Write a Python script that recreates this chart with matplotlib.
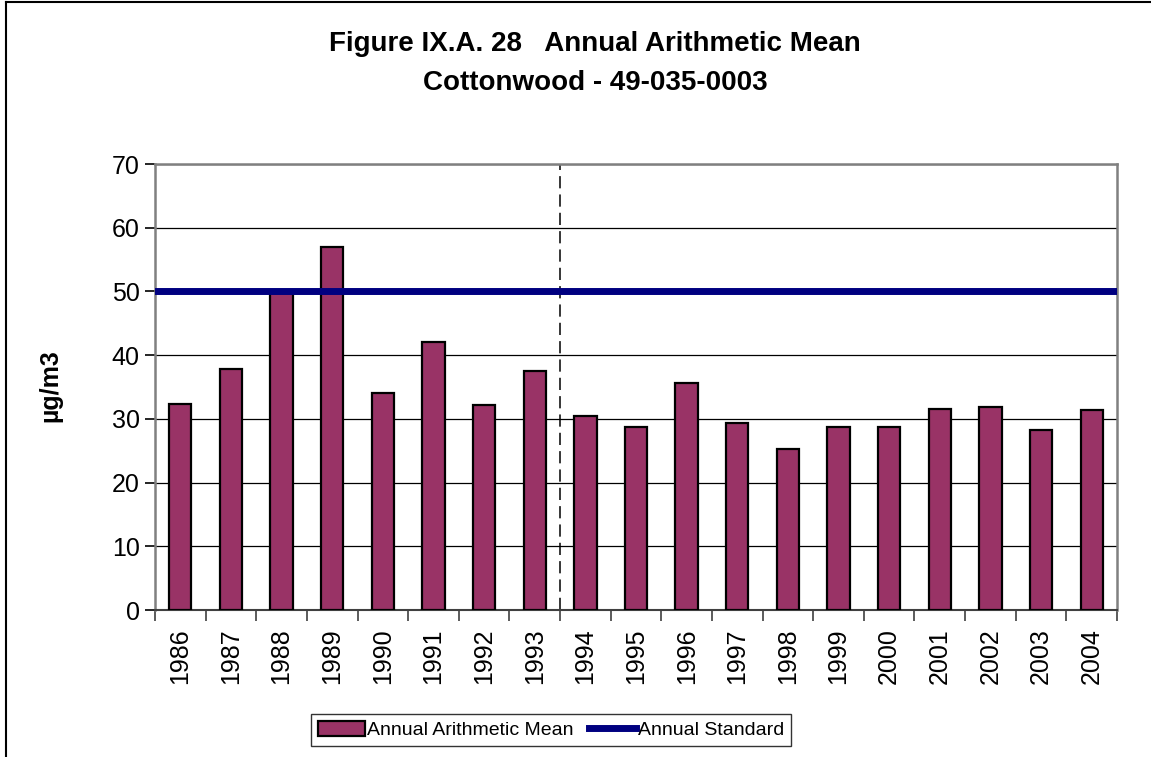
import numpy as np
import matplotlib
matplotlib.use("Agg")
import matplotlib.pyplot as plt
from matplotlib.lines import Line2D

# Donnees
years = ["1986", "1987", "1988", "1989", "1990", "1991", "1992", "1993", "1994", "1995",
         "1996", "1997", "1998", "1999", "2000", "2001", "2002", "2003", "2004"]
annual_mean = [32.4, 37.8, 49.8, 57.0, 34.0, 42.0, 32.2, 37.5, 30.5, 28.8,
               35.6, 29.4, 25.3, 28.8, 28.8, 31.55, 31.9, 28.3, 31.4]
annual_standard = 50
split_after = "1993"

plt.rcParams['font.family'] = ['Liberation Sans', 'DejaVu Sans']

W, H = 1151, 757
fig = plt.figure(figsize=(W / 100, H / 100), dpi=100)
ax = fig.add_axes([155 / W, 1 - 610 / H, (1117 - 155) / W, (610 - 164) / H])

x = np.arange(len(years))
bars = ax.bar(x, annual_mean, width=0.44, color='#993366', edgecolor='black', linewidth=1.6,
              label='Annual Arithmetic Mean', zorder=3)
std_line = ax.axhline(annual_standard, color='#000080', linewidth=5, label='Annual Standard',
                      zorder=4)
ax.axvline(years.index(split_after) + 0.5, color='black', linewidth=1.1,
           dashes=(8, 4), zorder=2)

ax.set_xlim(-0.5, len(years) - 0.5)
ax.set_ylim(0, 70)
ax.set_yticks(range(0, 71, 10))
ax.yaxis.grid(True, color='black', linewidth=0.9, zorder=1)
ax.set_xticks(x)
ax.set_xticklabels(years, rotation=90, fontsize=18)
ax.set_xticks(np.arange(-0.5, len(years), 1), minor=True)
ax.tick_params(axis='x', which='major', length=0, pad=13)
ax.tick_params(axis='x', which='minor', length=8, width=1.2, color='#404040', direction='out')
ax.tick_params(axis='y', length=7, width=1.2, labelsize=18, pad=4)

for s in ['left', 'top', 'right']:
    ax.spines[s].set_color('#808080')
    ax.spines[s].set_linewidth(1.8)
ax.spines['bottom'].set_color('#404040')
ax.spines['bottom'].set_linewidth(1.5)

fig.text(50 / W, 1 - 386 / H, "µg/m3", rotation=90, ha='center', va='center',
         fontsize=18, fontweight='bold')
fig.text(595 / W, 1 - 44 / H, "Figure IX.A. 28   Annual Arithmetic Mean", ha='center',
         va='center', fontsize=20, fontweight='bold')
fig.text(595 / W, 1 - 83 / H, "Cottonwood - 49-035-0003", ha='center', va='center',
         fontsize=20, fontweight='bold')

leg = fig.legend([bars, std_line], ['Annual Arithmetic Mean', 'Annual Standard'],
                 loc='center', bbox_to_anchor=(551 / W, 1 - 730 / H), ncol=2,
                 frameon=True, fancybox=False, edgecolor='black', borderpad=0.35,
                 handlelength=2.4, handleheight=0.8, handletextpad=0.1, columnspacing=0.8,
                 fontsize=14)
leg.get_frame().set_linewidth(1.0)

# cadre de la figure (coupe a droite et en bas)
fig.add_artist(Line2D([6 / W, 6 / W], [0, 1 - 2 / H], transform=fig.transFigure,
                      color='black', linewidth=1.5))
fig.add_artist(Line2D([6 / W, 1], [1 - 2 / H, 1 - 2 / H], transform=fig.transFigure,
                      color='black', linewidth=1.5))

fig.savefig("out.png", dpi=100)
